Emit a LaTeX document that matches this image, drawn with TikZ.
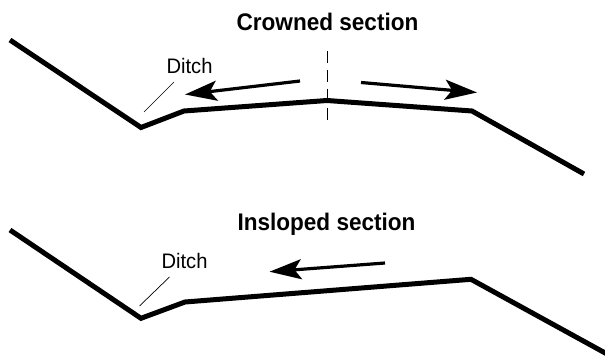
\documentclass[tikz,border=0pt]{standalone}
\usepackage{fontspec}
\setmainfont{Liberation Sans}
\newfontfamily\headfont[FakeStretch=0.94]{Liberation Sans}
\newfontfamily\ditchfont[FakeStretch=0.96]{Liberation Sans}
\usetikzlibrary{arrows.meta}
\tikzset{
  ground/.style={line width=5pt,line join=miter},
  flow/.style={line width=3.2pt,-{Stealth[length=32pt,width=20pt,inset=7pt]}},
  leader/.style={line width=0.7pt},
  heading/.style={font=\headfont\fontsize{24}{28}\selectfont\bfseries,anchor=base},
  ditchtext/.style={font=\ditchfont\fontsize{21}{25}\selectfont,anchor=base}
}
\begin{document}
\begin{tikzpicture}[x=1pt,y=-1pt]
  \useasboundingbox (0,0) rectangle (605,358);

  % crowned section
  \node[heading] (crowned) at (327.5,31) {Crowned section};
  \node[ditchtext] (ditchA) at (189.5,73.3) {Ditch};
  \foreach \name/\pos in {a1/{10,40},a2/{141,127.5},a3/{184,111},
                          a4/{327,100.5},a5/{472,111},a6/{584,174}}
    \coordinate (\name) at (\pos);
  \draw[ground] (a1) -- (a2) -- (a3) -- (a4) -- (a5) -- (a6);
  \coordinate (axistop) at (327,50.7);
  \coordinate (axisbot) at (327,120);
  \draw[line width=1pt,dash pattern=on 12pt off 7pt] (axistop) -- (axisbot);
  \coordinate (leftfrom) at (300,81);
  \coordinate (leftto) at (185,94.5);
  \coordinate (rightfrom) at (361,82.5);
  \coordinate (rightto) at (477,92.5);
  \draw[flow] (leftfrom) -- (leftto);
  \draw[flow] (rightfrom) -- (rightto);
  \coordinate (leadA1) at (174,82);
  \coordinate (leadA2) at (144,112);
  \draw[leader] (leadA1) -- (leadA2);

  % insloped section
  \node[heading] (insloped) at (326.5,230.7) {Insloped section};
  \node[ditchtext] (ditchB) at (184.5,268.3) {Ditch};
  \foreach \name/\pos in {b1/{10,230},b2/{141,318.3},b3/{185,302},
                          b4/{471,279.3},b5/{607,354}}
    \coordinate (\name) at (\pos);
  \draw[ground] (b1) -- (b2) -- (b3) -- (b4) -- (b5);
  \coordinate (inflowfrom) at (385,263);
  \coordinate (inflowto) at (269.5,271.7);
  \draw[flow] (inflowfrom) -- (inflowto);
  \coordinate (leadB1) at (169.5,277);
  \coordinate (leadB2) at (139.5,306);
  \draw[leader] (leadB1) -- (leadB2);
\end{tikzpicture}
\end{document}
